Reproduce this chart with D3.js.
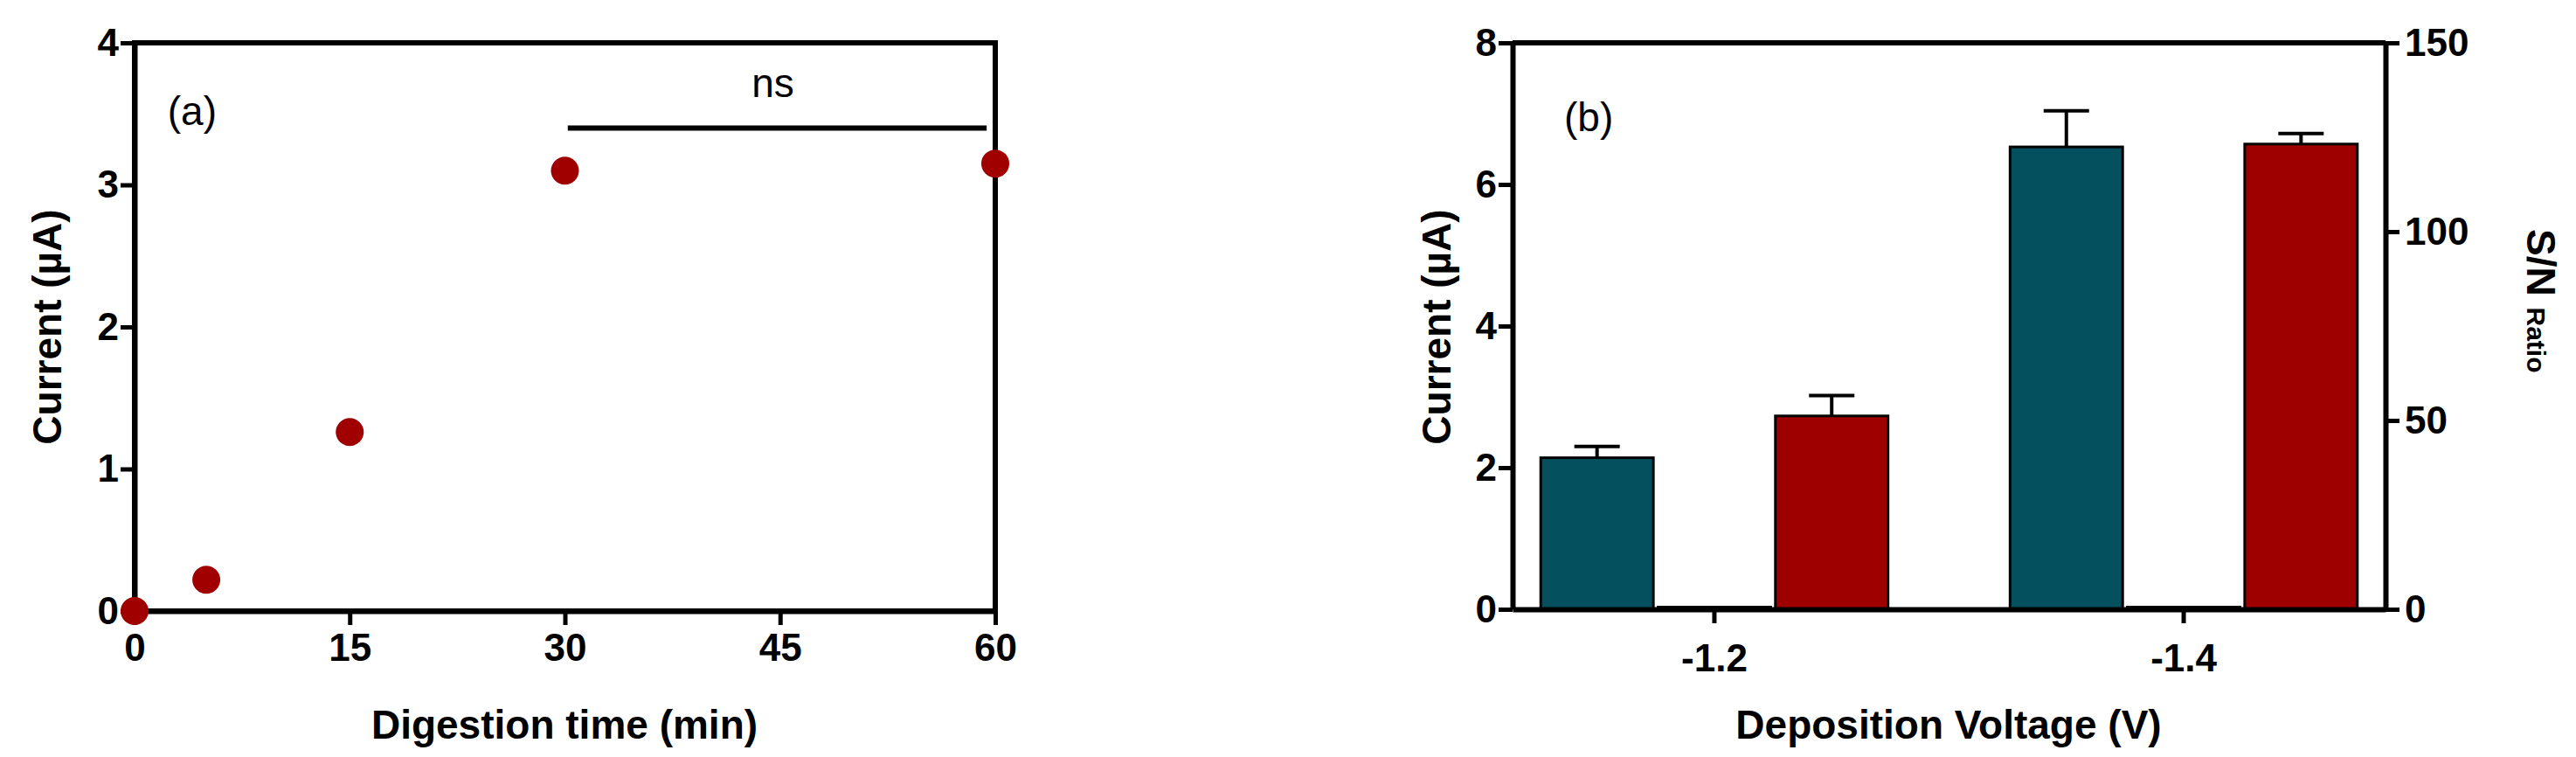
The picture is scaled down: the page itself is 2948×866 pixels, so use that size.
<!DOCTYPE html>
<html><head><meta charset="utf-8">
<script src="https://cdn.jsdelivr.net/npm/d3@7"></script>
<style>body{margin:0;background:#fff}text{font-family:"Liberation Sans",Arial,sans-serif}</style>
</head><body><svg id="fig" width="2948" height="866"></svg>
<script>
// panel (a) data
var digestTime = [0, 5, 15, 30, 60];
var digestCurrent = [0, 0.22, 1.26, 3.1, 3.15];
var timeTicks = [0, 15, 30, 45, 60];

// panel (b) data
var voltages = ["-1.2", "-1.4"];
var barCurrent = [2.14, 6.53];
var barCurrentErr = [0.16, 0.51];
var barBlank = [0.03, 0.03];
var snRatio = [51.2, 123.2];
var snErr = [5.4, 2.8];

var svg = d3.select("#fig");
var blue = "#05505f", red = "#9e0000";

// ---------- panel (a)
var xa = d3.scaleLinear().domain([0, 60]).range([154, 1139]);
var ya = d3.scaleLinear().domain([0, 4]).range([699, 49]);
var ga = svg.append("g");

function styleAxis(g) {
  g.selectAll("path.domain").attr("stroke-width", 6).attr("stroke", "#000");
  g.selectAll(".tick line").attr("stroke-width", 5);
  g.selectAll(".tick text").attr("font-size", 44).attr("font-weight", "bold").attr("fill", "#000");
}

ga.append("rect").attr("x", xa(0)).attr("y", ya(4)).attr("width", xa(60) - xa(0)).attr("height", ya(0) - ya(4))
  .attr("fill", "none").attr("stroke", "#000").attr("stroke-width", 6);
ga.append("g").attr("transform", "translate(0," + ya(0) + ")")
  .call(d3.axisBottom(xa).tickValues(timeTicks).tickSize(16).tickPadding(10).tickSizeOuter(0)).call(styleAxis);
ga.append("g").attr("transform", "translate(" + xa(0) + ",0)")
  .call(d3.axisLeft(ya).ticks(4).tickSize(16).tickPadding(2).tickSizeOuter(0)).call(styleAxis);

ga.selectAll("circle").data(digestTime).enter().append("circle")
  .attr("cx", d => xa(d)).attr("cy", (d, i) => ya(digestCurrent[i]))
  .attr("rx", 16).attr("r", 16).attr("fill", "#a00000");

ga.append("line").attr("x1", xa(30.2)).attr("x2", xa(59.4)).attr("y1", ya(3.4)).attr("y2", ya(3.4))
  .attr("stroke", "#000").attr("stroke-width", 6);
ga.append("text").attr("x", xa(44.5)).attr("y", ya(3.62)).attr("text-anchor", "middle")
  .attr("font-size", 46).text("ns");
ga.append("text").attr("x", xa(2.3)).attr("y", ya(3.42)).attr("font-size", 46).text("(a)");
ga.append("text").attr("x", 646).attr("y", 845).attr("text-anchor", "middle")
  .attr("font-size", 46).attr("font-weight", "bold").text("Digestion time (min)");
ga.append("text").attr("transform", "translate(70,374) rotate(-90)").attr("text-anchor", "middle")
  .attr("font-size", 46).attr("font-weight", "bold").text("Current (µA)");

// ---------- panel (b)
var x0 = d3.scaleBand().domain(voltages).range([1731, 2730]).paddingInner(0.26).paddingOuter(0.06);
var x1 = d3.scaleBand().domain(["cur", "blank", "sn"]).range([0, x0.bandwidth()]).paddingInner(0.04);
var yb = d3.scaleLinear().domain([0, 8]).range([697, 49]);
var yr = d3.scaleLinear().domain([0, 150]).range([697, 49]);
var gb = svg.append("g");

gb.append("line").attr("x1", 1731).attr("x2", 2730).attr("y1", yb(8)).attr("y2", yb(8))
  .attr("stroke", "#000").attr("stroke-width", 6);

voltages.forEach(function (v, i) {
  var bars = [
    {k: "cur", y: yb(barCurrent[i]), e: yb(barCurrent[i] + barCurrentErr[i]), c: blue},
    {k: "blank", y: yb(barBlank[i]), e: null, c: blue},
    {k: "sn", y: yr(snRatio[i]), e: yr(snRatio[i] + snErr[i]), c: red}
  ];
  bars.forEach(function (b) {
    var bx = x0(v) + x1(b.k), w = x1.bandwidth();
    if (b.e !== null) {
      gb.append("line").attr("x1", bx + w / 2).attr("x2", bx + w / 2).attr("y1", b.y).attr("y2", b.e)
        .attr("stroke", "#000").attr("stroke-width", 4);
      gb.append("line").attr("x1", bx + w / 2 - 26).attr("x2", bx + w / 2 + 26).attr("y1", b.e).attr("y2", b.e)
        .attr("stroke", "#000").attr("stroke-width", 4);
    }
    gb.append("rect").attr("x", bx).attr("y", b.y).attr("width", w).attr("height", yb(0) - b.y)
      .attr("fill", b.c).attr("stroke", "#000").attr("stroke-width", 3);
  });
});

gb.append("g").attr("transform", "translate(0," + yb(0) + ")")
  .call(d3.axisBottom(x0).tickSize(16).tickPadding(24).tickSizeOuter(0)).call(styleAxis);
gb.append("g").attr("transform", "translate(1731,0)")
  .call(d3.axisLeft(yb).ticks(4).tickSize(16).tickPadding(2).tickSizeOuter(0)).call(styleAxis);
gb.append("g").attr("transform", "translate(2730,0)")
  .call(d3.axisRight(yr).ticks(3).tickSize(16).tickPadding(6).tickSizeOuter(0)).call(styleAxis);

gb.append("text").attr("x", 2230).attr("y", 845).attr("text-anchor", "middle")
  .attr("font-size", 46).attr("font-weight", "bold").text("Deposition Voltage (V)");
gb.append("text").attr("transform", "translate(1660,374) rotate(-90)").attr("text-anchor", "middle")
  .attr("font-size", 46).attr("font-weight", "bold").text("Current (µA)");
gb.append("text").attr("x", 1790).attr("y", yb(6.75)).attr("font-size", 46).text("(b)");
var rt = gb.append("text").attr("transform", "translate(2892,262) rotate(90)").attr("font-weight", "bold");
rt.append("tspan").attr("font-size", 46).text("S/N ");
rt.append("tspan").attr("font-size", 30).attr("dy", 0).text("Ratio");
</script></body></html>
